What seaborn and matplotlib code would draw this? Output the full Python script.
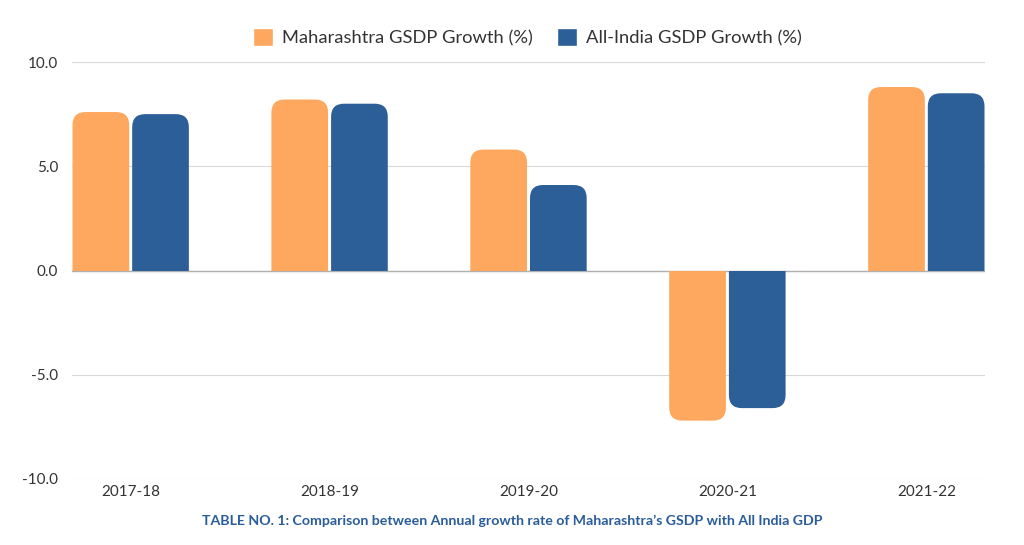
import matplotlib
matplotlib.use("Agg")
import matplotlib.pyplot as plt
import seaborn as sns
import pandas as pd
from matplotlib.patches import FancyBboxPatch, Rectangle

years = ["2017-18", "2018-19", "2019-20", "2020-21", "2021-22"]
maharashtra = [7.6, 8.2, 5.8, -7.2, 8.8]
all_india = [7.5, 8.0, 4.1, -6.6, 8.5]
series_names = ["Maharashtra GSDP Growth (%)", "All-India GSDP Growth (%)"]
colors = ["#FDA85E", "#2C5E97"]
yticks = [-10.0, -5.0, 0.0, 5.0, 10.0]
caption = "TABLE NO. 1: Comparison between Annual growth rate of Maharashtra\u2019s GSDP with All India GDP"

df = pd.DataFrame({
    "year": years * 2,
    "value": maharashtra + all_india,
    "series": [series_names[0]] * len(years) + [series_names[1]] * len(years),
})

sns.set_theme(style="white")
plt.rcParams["font.family"] = ["Lato", "DejaVu Sans"]

fig = plt.figure(figsize=(10.24, 5.45), dpi=100)
ax = fig.add_axes([72 / 1024, 66 / 545, (985 - 72) / 1024, (479 - 62) / 545])

sns.barplot(data=df, x="year", y="value", hue="series", palette=colors,
            width=0.6, gap=0.05, ax=ax, legend=True, saturation=1)

ax.set_xlim(-0.295, 4.295)
ax.set_ylim(-10, 10)

# rounded outer corners (square at the zero baseline)
fig.canvas.draw()
bbox = ax.get_window_extent()
xpp = (4.295 + 0.295) / bbox.width
ypp = 20.0 / bbox.height
aspect = ypp / xpp
r = 13 * xpp
ext = 2 * r * aspect
bars = [p for p in ax.patches if isinstance(p, Rectangle) and p.get_height() != 0]
for p in list(bars):
    x, w, h, y0 = p.get_x(), p.get_width(), p.get_height(), p.get_y()
    fc = p.get_facecolor()
    p.set_visible(False)
    if h >= 0:
        lo, hi = y0 - ext, y0 + h
        clip = Rectangle((x - 1, 0), w + 2, 50, transform=ax.transData)
    else:
        lo, hi = y0 + h, y0 + ext
        clip = Rectangle((x - 1, -50), w + 2, 50, transform=ax.transData)
    fb = FancyBboxPatch((x, lo), w, hi - lo,
                        boxstyle=f"round,pad=0,rounding_size={r}",
                        mutation_aspect=aspect, fc=fc, ec="none", zorder=3)
    ax.add_patch(fb)
    fb.set_clip_path(clip)

ax.set_yticks(yticks)
ax.set_yticklabels([f"{v:.1f}" for v in yticks])
ax.grid(axis="y", color="#d9d9d9", linewidth=0.8, zorder=0)
ax.axhline(0, color="#b0b0b0", linewidth=1.0, zorder=1)
for s in ax.spines.values():
    s.set_visible(False)
ax.set_xlabel("")
ax.set_ylabel("")
ax.tick_params(axis="both", length=0, labelsize=11, labelcolor="#333333")
ax.tick_params(axis="x", pad=4)
ax.tick_params(axis="y", pad=10)

handles, labels = ax.get_legend_handles_labels()
ax.legend_.remove()
fig.legend(handles, labels, loc="center", bbox_to_anchor=(0.515, 1 - 37 / 545),
           ncol=2, frameon=False, fontsize=13.2, handlelength=1.1, handleheight=1.1,
           columnspacing=1.3, handletextpad=0.5, labelcolor="#333333")

fig.text(0.5, 1 - 521 / 545, caption, ha="center", va="center",
         fontsize=10.2, fontweight="bold", color="#2A5C9A")

fig.savefig("out.png", dpi=100)
